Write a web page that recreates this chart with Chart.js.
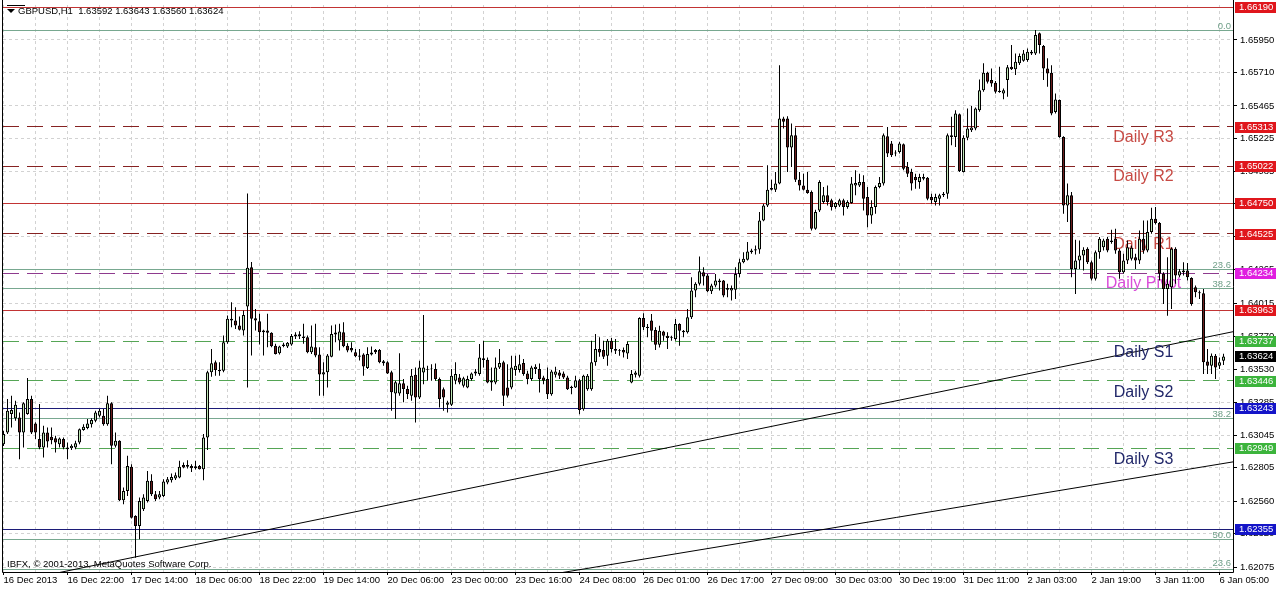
<!DOCTYPE html>
<html><head><meta charset="utf-8">
<script src="https://cdn.jsdelivr.net/npm/chart.js@4.4.1/dist/chart.umd.min.js"></script>
<style>html,body{margin:0;padding:0;background:#fff;overflow:hidden}canvas{display:block}</style>
</head><body>
<canvas id="c" width="1276" height="589"></canvas>
<script>
const titleText = 'GBPUSD,H1  1.63592 1.63643 1.63560 1.63624';
const copyrightText = 'IBFX, \u00a9 2001-2013, MetaQuotes Software Corp.';
const timeLabels = ['16 Dec 2013','16 Dec 22:00','17 Dec 14:00','18 Dec 06:00','18 Dec 22:00','19 Dec 14:00','20 Dec 06:00','23 Dec 00:00','23 Dec 16:00','24 Dec 08:00','26 Dec 01:00','26 Dec 17:00','27 Dec 09:00','30 Dec 03:00','30 Dec 19:00','31 Dec 11:00','2 Jan 03:00','2 Jan 19:00','3 Jan 11:00','6 Jan 05:00'];
const yTickValues = [1.65950,1.65710,1.65465,1.65225,1.64985,1.64745,1.64505,1.64265,1.64015,1.63770,1.63530,1.63285,1.63045,1.62805,1.62560,1.62320,1.62075];

const opens = [
1.62979,1.63065,1.63200,1.63170,1.63175,1.63065,1.63200,1.63310,1.63131,1.63016,
1.62954,1.63065,1.63033,1.63023,1.62979,1.63016,1.62954,1.62949,1.62954,1.62991,
1.63082,1.63097,1.63126,1.63151,1.63188,1.63188,1.63126,1.63279,1.62967,1.63003,
1.62566,1.62635,1.62812,1.62451,1.62377,1.62500,1.62561,1.62709,1.62610,1.62586,
1.62598,1.62696,1.62714,1.62726,1.62733,1.62826,1.62812,1.62819,1.62802,1.62819,
1.62795,1.63028,1.63507,1.63580,1.63524,1.63519,1.63728,1.63888,1.63888,1.63851,
1.63814,1.63991,1.64280,1.63905,1.63883,1.63814,1.63814,1.63797,1.63703,1.63647,
1.63701,1.63696,1.63711,1.63770,1.63772,1.63770,1.63765,1.63654,1.63691,1.63637,
1.63490,1.63507,1.63622,1.63784,1.63740,1.63802,1.63703,1.63686,1.63654,1.63630,
1.63637,1.63539,1.63637,1.63671,1.63671,1.63588,1.63580,1.63507,1.63352,1.63352,
1.63426,1.63384,1.63334,1.63489,1.63322,1.63506,1.63531,1.63531,1.63531,1.63457,
1.63383,1.63268,1.63268,1.63445,1.63469,1.63408,1.63395,1.63457,1.63499,1.63494,
1.63611,1.63599,1.63445,1.63432,1.63543,1.63580,1.63395,1.63395,1.63523,1.63523,
1.63575,1.63499,1.63457,1.63531,1.63531,1.63469,1.63457,1.63346,1.63489,1.63506,
1.63499,1.63469,1.63400,1.63395,1.63449,1.63236,1.63383,1.63383,1.63580,1.63678,
1.63671,1.63629,1.63739,1.63678,1.63666,1.63671,1.63646,1.63432,1.63489,1.63481,
1.63906,1.63842,1.63887,1.63818,1.63710,1.63806,1.63776,1.63764,1.63752,1.63862,
1.63813,1.63801,1.63911,1.64108,1.64157,1.64243,1.64218,1.64103,1.64145,1.64181,
1.64181,1.64127,1.64108,1.64113,1.64230,1.64316,1.64334,1.64402,1.64412,1.64410,
1.64623,1.64734,1.64849,1.64849,1.64894,1.65373,1.65373,1.65159,1.65250,1.64923,
1.64881,1.64849,1.64832,1.64562,1.64697,1.64759,1.64808,1.64771,1.64722,1.64734,
1.64771,1.64722,1.64751,1.64881,1.64881,1.64906,1.64795,1.64660,1.64722,1.64869,
1.64894,1.65243,1.65188,1.65115,1.65127,1.65184,1.65016,1.64980,1.64943,1.64906,
1.64943,1.64938,1.64795,1.64759,1.64783,1.64808,1.64820,1.65237,1.65237,1.65404,
1.64980,1.65232,1.65287,1.65299,1.65434,1.65581,1.65709,1.65655,1.65635,1.65576,
1.65557,1.65655,1.65753,1.65734,1.65778,1.65797,1.65802,1.65864,1.65851,1.65999,
1.65905,1.65741,1.65709,1.65421,1.65508,1.65237,1.64734,1.64808,1.64267,1.64329,
1.64366,1.64415,1.64316,1.64194,1.64390,1.64427,1.64488,1.64464,1.64488,1.64402,
1.64243,1.64329,1.64341,1.64353,1.64329,1.64488,1.64402,1.64538,1.64636,1.64604,
1.64231,1.64120,1.64132,1.64415,1.64218,1.64243,1.64255,1.64201,1.64132,1.64095,
1.64088,1.63587,1.63555,1.63629,1.63555,1.63592];

const highs = [
1.63077,1.63310,1.63335,1.63298,1.63212,1.63286,1.63465,1.63335,1.63139,1.63274,
1.63114,1.63102,1.63102,1.63040,1.63028,1.63028,1.62991,1.62979,1.63003,1.63094,
1.63126,1.63163,1.63170,1.63224,1.63237,1.63237,1.63335,1.63286,1.63065,1.63008,
1.62660,1.62893,1.62831,1.62456,1.62586,1.62610,1.62782,1.62758,1.62635,1.62635,
1.62721,1.62738,1.62763,1.62770,1.62856,1.62844,1.62861,1.62831,1.62856,1.62826,
1.63053,1.63519,1.63679,1.63593,1.63580,1.63777,1.63924,1.64022,1.63986,1.63917,
1.63961,1.64821,1.64317,1.63973,1.63937,1.63819,1.63937,1.63802,1.63716,1.63703,
1.63725,1.63730,1.63789,1.63802,1.63809,1.63863,1.63777,1.63851,1.63863,1.63691,
1.63580,1.63642,1.63851,1.63858,1.63863,1.63875,1.63720,1.63728,1.63679,1.63679,
1.63647,1.63691,1.63696,1.63679,1.63679,1.63598,1.63588,1.63519,1.63445,1.63647,
1.63458,1.63408,1.63531,1.63543,1.63592,1.63928,1.63555,1.63567,1.63572,1.63469,
1.63395,1.63297,1.63531,1.63580,1.63494,1.63474,1.63481,1.63506,1.63531,1.63715,
1.63739,1.63616,1.63543,1.63616,1.63678,1.63592,1.63567,1.63629,1.63629,1.63636,
1.63604,1.63518,1.63555,1.63567,1.63572,1.63481,1.63543,1.63523,1.63548,1.63523,
1.63513,1.63481,1.63408,1.63481,1.63457,1.63489,1.63494,1.63739,1.63789,1.63764,
1.63739,1.63752,1.63759,1.63752,1.63678,1.63690,1.63734,1.63523,1.63518,1.63911,
1.63941,1.63862,1.63936,1.63838,1.63850,1.63813,1.63801,1.63776,1.63899,1.63867,
1.63818,1.63973,1.64206,1.64169,1.64358,1.64280,1.64230,1.64157,1.64230,1.64194,
1.64186,1.64157,1.64145,1.64280,1.64341,1.64390,1.64464,1.64415,1.64439,1.64685,
1.64746,1.65029,1.64923,1.64980,1.65765,1.65385,1.65390,1.65336,1.65306,1.64980,
1.64967,1.64980,1.64844,1.64702,1.64918,1.64869,1.64881,1.64783,1.64759,1.64783,
1.64783,1.64771,1.64943,1.64992,1.64967,1.64955,1.64869,1.64771,1.64881,1.64943,
1.65262,1.65311,1.65208,1.65139,1.65201,1.65188,1.65053,1.65004,1.64967,1.64967,
1.64967,1.64943,1.64820,1.64820,1.64820,1.64832,1.65262,1.65385,1.65434,1.65409,
1.65250,1.65446,1.65464,1.65453,1.65660,1.65778,1.65716,1.65741,1.65648,1.65753,
1.65594,1.65766,1.65913,1.65851,1.65851,1.65876,1.65888,1.65876,1.66023,1.66004,
1.65913,1.65815,1.65765,1.65557,1.65512,1.65242,1.64894,1.64832,1.64481,1.64476,
1.64427,1.64427,1.64329,1.64402,1.64501,1.64488,1.64501,1.64555,1.64562,1.64415,
1.64378,1.64476,1.64439,1.64378,1.64550,1.64623,1.64623,1.64717,1.64722,1.64611,
1.64243,1.64353,1.64427,1.64427,1.64267,1.64316,1.64310,1.64206,1.64145,1.64108,
1.64120,1.63678,1.63646,1.63641,1.63616,1.63643];

const lows = [
1.62966,1.63053,1.63102,1.63151,1.62868,1.62954,1.63195,1.63053,1.63016,1.62942,
1.62881,1.62954,1.62979,1.62917,1.62954,1.62942,1.62868,1.62935,1.62942,1.62979,
1.63077,1.63089,1.63102,1.63139,1.63175,1.63114,1.63114,1.62831,1.62954,1.62561,
1.62537,1.62598,1.62433,1.62144,1.62279,1.62488,1.62549,1.62598,1.62561,1.62573,
1.62591,1.62684,1.62696,1.62716,1.62728,1.62802,1.62800,1.62775,1.62792,1.62792,
1.62714,1.62935,1.63475,1.63482,1.63482,1.63507,1.63716,1.63838,1.63826,1.63814,
1.63777,1.63396,1.63630,1.63814,1.63711,1.63630,1.63691,1.63691,1.63637,1.63637,
1.63691,1.63686,1.63703,1.63752,1.63752,1.63716,1.63647,1.63642,1.63617,1.63335,
1.63335,1.63396,1.63617,1.63728,1.63667,1.63691,1.63654,1.63654,1.63617,1.63593,
1.63482,1.63531,1.63630,1.63642,1.63573,1.63556,1.63494,1.63224,1.63163,1.63335,
1.63286,1.63310,1.63297,1.63138,1.63310,1.63420,1.63445,1.63445,1.63445,1.63248,
1.63224,1.63211,1.63260,1.63420,1.63420,1.63395,1.63390,1.63445,1.63481,1.63481,
1.63543,1.63427,1.63371,1.63420,1.63531,1.63260,1.63322,1.63383,1.63481,1.63506,
1.63481,1.63420,1.63445,1.63494,1.63359,1.63420,1.63310,1.63334,1.63469,1.63457,
1.63457,1.63376,1.63346,1.63391,1.63199,1.63224,1.63371,1.63371,1.63555,1.63621,
1.63604,1.63555,1.63653,1.63641,1.63629,1.63616,1.63604,1.63427,1.63469,1.63469,
1.63818,1.63764,1.63739,1.63671,1.63690,1.63739,1.63678,1.63739,1.63739,1.63703,
1.63764,1.63793,1.63899,1.64059,1.64145,1.64145,1.64096,1.64083,1.64132,1.64108,
1.64059,1.64059,1.64034,1.64046,1.64206,1.64309,1.64329,1.64378,1.64373,1.64378,
1.64618,1.64722,1.64844,1.64832,1.64889,1.65300,1.64980,1.65016,1.64906,1.64844,
1.64844,1.64820,1.64550,1.64555,1.64685,1.64746,1.64734,1.64697,1.64709,1.64722,
1.64660,1.64709,1.64746,1.64808,1.64869,1.64697,1.64574,1.64599,1.64672,1.64860,
1.64881,1.65090,1.65090,1.65095,1.65115,1.64992,1.64943,1.64844,1.64857,1.64857,
1.64918,1.64771,1.64746,1.64734,1.64734,1.64795,1.64783,1.65176,1.65164,1.64980,
1.64975,1.65213,1.65274,1.65287,1.65422,1.65569,1.65630,1.65606,1.65557,1.65562,
1.65514,1.65532,1.65729,1.65692,1.65766,1.65790,1.65790,1.65839,1.65839,1.65851,
1.65655,1.65606,1.65397,1.65409,1.65232,1.64672,1.64611,1.64206,1.64083,1.64267,
1.64255,1.64304,1.64181,1.64181,1.64341,1.64402,1.64390,1.64452,1.64378,1.64194,
1.64231,1.64304,1.64329,1.64267,1.64304,1.64378,1.64390,1.64525,1.64594,1.64181,
1.64009,1.63923,1.63973,1.64157,1.64206,1.64218,1.64181,1.63997,1.64058,1.64046,
1.63494,1.63494,1.63494,1.63457,1.63531,1.63560];

const closes = [
1.63053,1.63224,1.63229,1.63269,1.63065,1.63279,1.63310,1.63065,1.63065,1.62954,
1.63065,1.62999,1.63008,1.62991,1.63021,1.62954,1.62942,1.62967,1.62986,1.63089,
1.63107,1.63131,1.63156,1.63212,1.63224,1.63126,1.63279,1.62967,1.63003,1.62566,
1.62635,1.62819,1.62438,1.62377,1.62561,1.62586,1.62709,1.62610,1.62573,1.62610,
1.62704,1.62721,1.62738,1.62750,1.62812,1.62807,1.62826,1.62802,1.62817,1.62795,
1.63028,1.63507,1.63573,1.63524,1.63514,1.63728,1.63900,1.63900,1.63851,1.63819,
1.63929,1.64276,1.63900,1.63888,1.63802,1.63802,1.63797,1.63698,1.63642,1.63696,
1.63711,1.63725,1.63774,1.63784,1.63786,1.63760,1.63654,1.63696,1.63630,1.63490,
1.63507,1.63630,1.63789,1.63799,1.63806,1.63698,1.63667,1.63667,1.63625,1.63622,
1.63549,1.63642,1.63652,1.63654,1.63580,1.63573,1.63499,1.63360,1.63433,1.63426,
1.63384,1.63347,1.63481,1.63322,1.63543,1.63543,1.63526,1.63535,1.63457,1.63310,
1.63322,1.63285,1.63481,1.63494,1.63432,1.63464,1.63457,1.63499,1.63513,1.63616,
1.63597,1.63432,1.63432,1.63543,1.63575,1.63334,1.63334,1.63543,1.63555,1.63567,
1.63494,1.63457,1.63543,1.63548,1.63457,1.63445,1.63346,1.63513,1.63513,1.63481,
1.63469,1.63383,1.63391,1.63449,1.63229,1.63481,1.63481,1.63580,1.63678,1.63653,
1.63621,1.63739,1.63678,1.63666,1.63671,1.63653,1.63715,1.63494,1.63506,1.63906,
1.63838,1.63833,1.63813,1.63710,1.63813,1.63776,1.63759,1.63759,1.63862,1.63813,
1.63801,1.63911,1.64108,1.64157,1.64250,1.64211,1.64103,1.64145,1.64181,1.64169,
1.64071,1.64113,1.64127,1.64230,1.64316,1.64341,1.64395,1.64390,1.64402,1.64623,
1.64734,1.64849,1.64862,1.64894,1.65373,1.65349,1.65159,1.65250,1.64923,1.64881,
1.64849,1.64825,1.64562,1.64685,1.64906,1.64808,1.64759,1.64722,1.64751,1.64771,
1.64722,1.64759,1.64894,1.64898,1.64906,1.64783,1.64660,1.64722,1.64869,1.64898,
1.65250,1.65115,1.65103,1.65122,1.65188,1.65004,1.64967,1.64894,1.64918,1.64943,
1.64930,1.64783,1.64771,1.64795,1.64808,1.64820,1.65250,1.65250,1.65409,1.64987,
1.65232,1.65299,1.65306,1.65446,1.65581,1.65709,1.65643,1.65630,1.65569,1.65567,
1.65581,1.65749,1.65734,1.65790,1.65832,1.65851,1.65864,1.65851,1.65987,1.65913,
1.65741,1.65704,1.65409,1.65512,1.65237,1.64734,1.64808,1.64267,1.64329,1.64366,
1.64407,1.64316,1.64194,1.64390,1.64488,1.64476,1.64402,1.64476,1.64402,1.64243,
1.64329,1.64427,1.64422,1.64329,1.64488,1.64402,1.64538,1.64636,1.64604,1.64231,
1.64120,1.64157,1.64415,1.64218,1.64250,1.64255,1.64206,1.64009,1.64095,1.64088,
1.63580,1.63555,1.63629,1.63543,1.63580,1.63624];

const redSolidLevels = [1.66190, 1.64750, 1.63963];
const resistanceLevels = [1.65313, 1.65022, 1.64525];
const resistanceNames = ['Daily R3', 'Daily R2', 'Daily R1'];
const pivotLevel = 1.64234;
const pivotName = 'Daily Pivot';
const supportLevels = [1.63737, 1.63446, 1.62949];
const supportNames = ['Daily S1', 'Daily S2', 'Daily S3'];
const blueLevels = [1.63243, 1.62355];
const fibLevels = [1.66016, 1.64259, 1.64125, 1.63164, 1.62279, 1.62057];
const fibNames = ['0.0', '23.6', '38.2', '38.2', '50.0', '23.6'];
const trendLines = [[33, 1.62150, 305, 1.63791], [150, 1.62085, 305, 1.62837]];
const currentPrice = 1.63624;
const labelBarIndex = 285;

const BULL = '#bfe6b6', BEAR = '#6b1d1d';
const C_RED_LINE = '#c23434', C_RED_DASH = '#862222', C_PIVOT = '#8e3a8e', C_GREEN_DASH = '#55a555';
const C_NAVY = '#1c1c78', C_FIB = '#78a890', C_GRID = '#d2d2d2';
const BOX_RED = '#e0161c', BOX_MAG = '#e01ee0', BOX_GREEN = '#3cb43c', BOX_BLUE = '#1414c8', BOX_BLACK = '#000000';
const FONT = "'Liberation Sans', Arial, sans-serif";

const bodyData = opens.map((o, i) => ({x: i, y: [o, closes[i]]}));
const wickData = opens.map((o, i) => ({x: i, y: [lows[i], highs[i]]}));
const bodyColors = opens.map((o, i) => closes[i] >= o ? BULL : BEAR);
const gridIdx = [];
timeLabels.forEach((_, k) => { gridIdx.push(16 * k); if (16 * k + 8 <= 307) gridIdx.push(16 * k + 8); });

Chart.defaults.font.family = FONT;
Chart.defaults.font.size = 9.5;
Chart.defaults.color = '#000';

const overlay = {
  id: 'overlay',
  beforeDatasetsDraw(chart) {
    const {ctx, chartArea: a, scales: {x, y}} = chart;
    ctx.save();
    ctx.beginPath(); ctx.rect(a.left, a.top, a.right - a.left, a.bottom - a.top); ctx.clip();
    const h = (p, color, dash) => {
      const yy = Math.floor(y.getPixelForValue(p)) + 0.5;
      ctx.strokeStyle = color; ctx.lineWidth = 1; ctx.setLineDash(dash);
      ctx.beginPath(); ctx.moveTo(a.left, yy); ctx.lineTo(a.right, yy); ctx.stroke();
    };
    fibLevels.forEach(p => h(p, C_FIB, []));
    redSolidLevels.forEach(p => h(p, C_RED_LINE, []));
    blueLevels.forEach(p => h(p, C_NAVY, []));
    resistanceLevels.forEach(p => h(p, C_RED_DASH, [16, 8]));
    h(pivotLevel, C_PIVOT, [16, 8]);
    supportLevels.forEach(p => h(p, C_GREEN_DASH, [16, 8]));
    ctx.setLineDash([]);
    trendLines.forEach(([i1, p1, i2, p2]) => {
      const x1 = x.getPixelForValue(i1), y1 = y.getPixelForValue(p1);
      const x2 = x.getPixelForValue(i2), y2 = y.getPixelForValue(p2);
      const m = (y2 - y1) / (x2 - x1);
      ctx.strokeStyle = '#000'; ctx.lineWidth = 1;
      ctx.beginPath();
      ctx.moveTo(a.left, y1 + m * (a.left - x1));
      ctx.lineTo(a.right, y1 + m * (a.right - x1));
      ctx.stroke();
    });
    // level captions sit behind the candles
    const lx = x.getPixelForValue(labelBarIndex);
    ctx.font = '16px ' + FONT; ctx.textAlign = 'center'; ctx.textBaseline = 'alphabetic';
    ctx.fillStyle = '#c74a44';
    resistanceLevels.forEach((p, k) => ctx.fillText(resistanceNames[k], lx, y.getPixelForValue(p) + 15));
    ctx.fillStyle = '#d94ed9';
    ctx.fillText(pivotName, lx, y.getPixelForValue(pivotLevel) + 15);
    ctx.fillStyle = '#22286a';
    supportLevels.forEach((p, k) => ctx.fillText(supportNames[k], lx, y.getPixelForValue(p) + 16));
    ctx.font = '9.5px ' + FONT; ctx.textAlign = 'right'; ctx.fillStyle = '#6f9f88';
    fibLevels.forEach((p, k) => ctx.fillText(fibNames[k], a.right - 2, Math.min(y.getPixelForValue(p) - 1.5, a.bottom - 6)));
    ctx.textAlign = 'left'; ctx.fillStyle = '#000';
    ctx.fillText(copyrightText, 7, 567);
    ctx.restore();
  },
  afterDatasetsDraw(chart) {
    const {ctx, chartArea: a} = chart;
    ctx.save();
    ctx.font = '9.5px ' + FONT; ctx.textAlign = 'left'; ctx.fillStyle = '#000';
    ctx.fillText(titleText, 18, 14);
    ctx.beginPath(); ctx.moveTo(7, 9); ctx.lineTo(15, 9); ctx.lineTo(11, 13); ctx.closePath(); ctx.fill();
    ctx.fillRect(7, 5, 18, 1);
    ctx.strokeStyle = '#000'; ctx.lineWidth = 1;
    ctx.beginPath();
    ctx.moveTo(2.5, 0); ctx.lineTo(2.5, a.bottom + 0.5);
    ctx.lineTo(a.right + 0.5, a.bottom + 0.5); ctx.lineTo(a.right + 0.5, 0);
    ctx.stroke();
    ctx.restore();
  },
  afterDraw(chart) {
    const {ctx, scales: {y}} = chart;
    ctx.save();
    const box = (p, color) => {
      const cy = Math.round(y.getPixelForValue(p));
      ctx.fillStyle = color; ctx.fillRect(1235, cy - 5, 41, 11);
      ctx.fillStyle = '#fff'; ctx.font = '9.5px ' + FONT; ctx.textAlign = 'left'; ctx.textBaseline = 'middle';
      ctx.fillText(p.toFixed(5), 1239, cy + 0.5);
    };
    redSolidLevels.forEach(p => box(p, BOX_RED));
    resistanceLevels.forEach(p => box(p, BOX_RED));
    box(pivotLevel, BOX_MAG);
    supportLevels.forEach(p => box(p, BOX_GREEN));
    blueLevels.forEach(p => box(p, BOX_BLUE));
    box(currentPrice, BOX_BLACK);
    ctx.restore();
  }
};

new Chart(document.getElementById('c').getContext('2d'), {
  type: 'bar',
  data: {
    datasets: [
      {label: 'body', data: bodyData, backgroundColor: bodyColors, borderColor: '#000', borderWidth: 1,
       borderSkipped: false, barThickness: 3, maxBarThickness: 3, grouped: false, inflateAmount: 0, order: 0},
      {label: 'wick', data: wickData, backgroundColor: '#000', borderWidth: 0,
       barThickness: 1, maxBarThickness: 1, grouped: false, inflateAmount: 0, order: 1}
    ]
  },
  options: {
    responsive: false, animation: false, devicePixelRatio: 1,
    layout: {padding: {left: 3, top: 5, right: 0, bottom: 0}, autoPadding: false},
    plugins: {legend: {display: false}, tooltip: {enabled: false}, title: {display: false}},
    scales: {
      x: {
        type: 'linear', min: -0.125, max: 307.375, offset: false, position: 'bottom',
        afterBuildTicks: s => { s.ticks = gridIdx.map(v => ({value: v})); },
        afterFit: s => { s.height = 17; s.paddingLeft = 0; s.paddingRight = 0; },
        ticks: {autoSkip: false, maxRotation: 0, minRotation: 0, align: 'start', padding: 0, color: '#000',
                callback: v => (v % 16 === 0 ? timeLabels[v / 16] : '')},
        grid: {offset: false, color: C_GRID, lineWidth: 1, drawTicks: true, tickLength: 3,
               tickColor: c => (c.tick && c.tick.value % 16 === 0) ? '#000' : 'rgba(0,0,0,0)'},
        border: {display: false, dash: [3, 3]}
      },
      y: {
        type: 'linear', position: 'right', min: 1.62039, max: 1.66207,
        afterBuildTicks: s => { s.ticks = yTickValues.map(v => ({value: v})); },
        afterFit: s => { s.width = 43; s.paddingTop = 0; s.paddingBottom = 0; },
        ticks: {autoSkip: false, padding: 3, color: '#000', callback: v => Number(v).toFixed(5)},
        grid: {color: C_GRID, lineWidth: 1, tickLength: 4, tickColor: '#000'},
        border: {display: false, dash: [3, 3]}
      }
    }
  },
  plugins: [overlay]
});
</script>
</body></html>
